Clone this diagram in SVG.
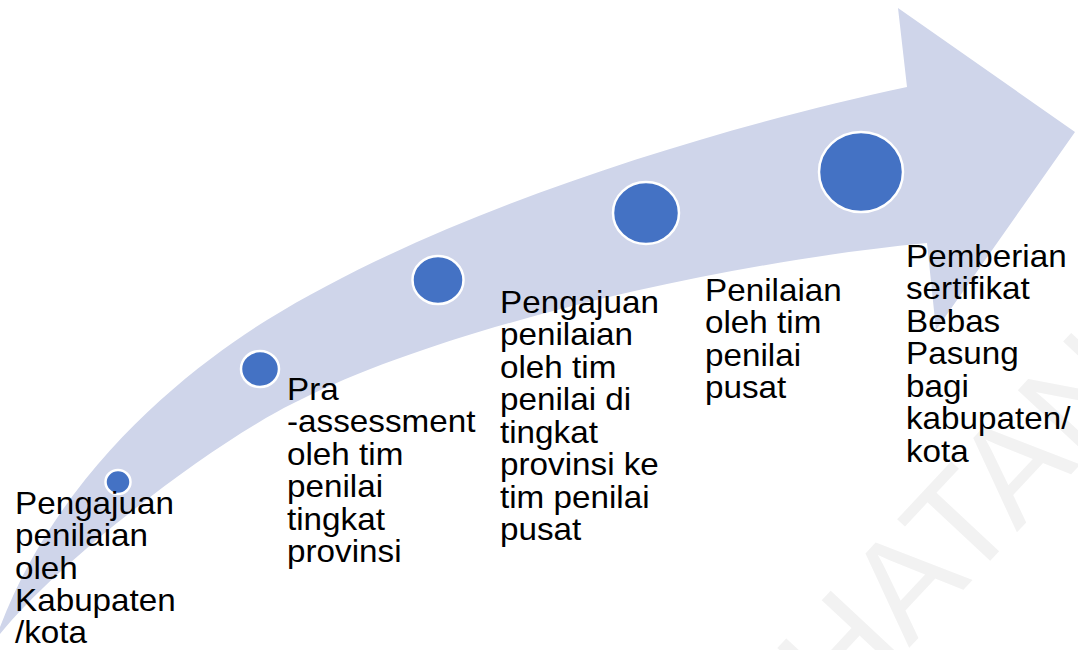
<svg xmlns="http://www.w3.org/2000/svg" width="1078" height="650" viewBox="0 0 1078 650">
  <style>
    .dot { fill: #4472C4; stroke: #FFFFFF; stroke-width: 2.5; }
    .lbl { font-family: "Liberation Sans", Arial, sans-serif; font-size: 30.5px; fill: #000000; }
    .wm { font-family: "Liberation Sans", Arial, sans-serif; font-size: 140px; fill: #F2F2F2; }
  </style>
  <rect x="0" y="0" width="1078" height="650" fill="#FFFFFF"/>
  <text class="wm" transform="translate(840,722) rotate(-47)">HATAN</text>
  <g id="connectors">
    <path id="arrow" fill="#CFD5EA" d="M 907,87 L 898,8 L 1075,132 L 936,330 L 927,243 C 727,262 450,325 300,400 C 215,440 60,560 0,634 L 0,627 C 60,470 187,370 267,320 C 437,215 697,132 907,87 Z"/>
  </g>
  <g id="step1">
    <ellipse class="dot" cx="118" cy="482" rx="12.5" ry="12"/>
    <text class="lbl" transform="translate(15,514) scale(1.09,1)"><tspan x="0" y="0">Pengajuan</tspan><tspan x="0" y="32.3">penilaian</tspan><tspan x="0" y="64.6">oleh</tspan><tspan x="0" y="96.9">Kabupaten</tspan><tspan x="0" y="129.2">/kota</tspan></text>
  </g>
  <g id="step2">
    <ellipse class="dot" cx="260" cy="369" rx="19" ry="18"/>
    <text class="lbl" transform="translate(287,400) scale(1.09,1)"><tspan x="0" y="0">Pra</tspan><tspan x="0" y="32.5">-assessment</tspan><tspan x="0" y="65">oleh tim</tspan><tspan x="0" y="97.5">penilai</tspan><tspan x="0" y="130">tingkat</tspan><tspan x="0" y="162.5">provinsi</tspan></text>
  </g>
  <g id="step3">
    <ellipse class="dot" cx="438" cy="280" rx="25.5" ry="24"/>
    <text class="lbl" transform="translate(500,313) scale(1.09,1)"><tspan x="0" y="0">Pengajuan</tspan><tspan x="0" y="32.5">penilaian</tspan><tspan x="0" y="65">oleh tim</tspan><tspan x="0" y="97.5">penilai di</tspan><tspan x="0" y="130">tingkat</tspan><tspan x="0" y="162.5">provinsi ke</tspan><tspan x="0" y="195">tim penilai</tspan><tspan x="0" y="227.5">pusat</tspan></text>
  </g>
  <g id="step4">
    <ellipse class="dot" cx="646" cy="213" rx="33" ry="31"/>
    <text class="lbl" transform="translate(705,301) scale(1.09,1)"><tspan x="0" y="0">Penilaian</tspan><tspan x="0" y="32.5">oleh tim</tspan><tspan x="0" y="65">penilai</tspan><tspan x="0" y="97.5">pusat</tspan></text>
  </g>
  <g id="step5">
    <ellipse class="dot" cx="861" cy="172" rx="42" ry="40"/>
    <text class="lbl" transform="translate(906,267) scale(1.09,1)"><tspan x="0" y="0">Pemberian</tspan><tspan x="0" y="32.5">sertifikat</tspan><tspan x="0" y="65">Bebas</tspan><tspan x="0" y="97.5">Pasung</tspan><tspan x="0" y="130">bagi</tspan><tspan x="0" y="162.5">kabupaten/</tspan><tspan x="0" y="195">kota</tspan></text>
  </g>
</svg>
